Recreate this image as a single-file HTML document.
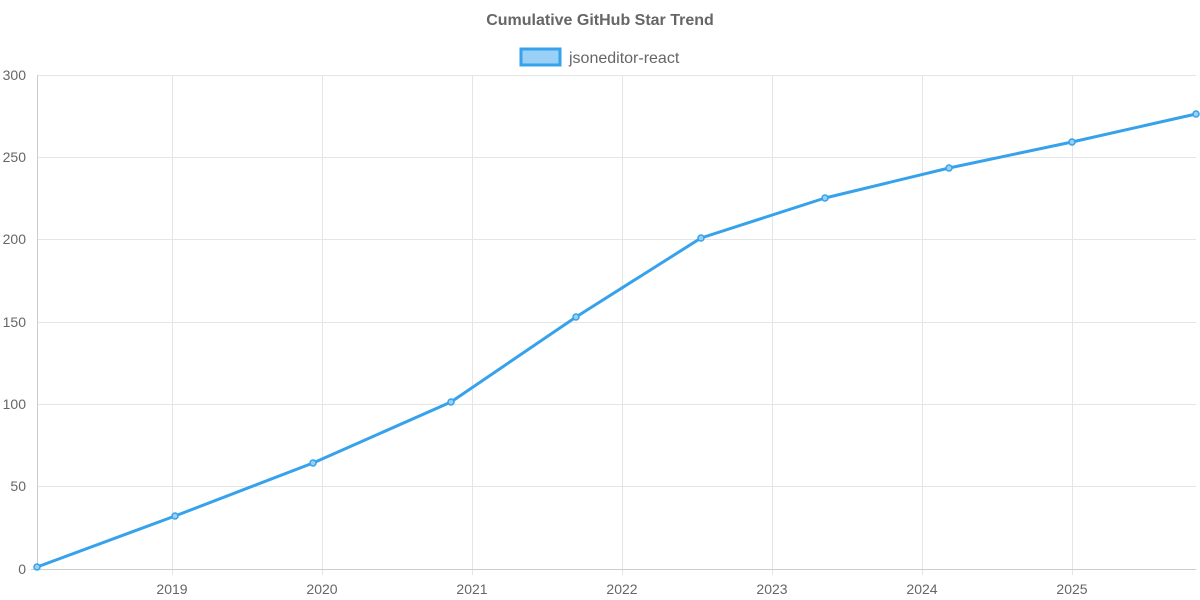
<!DOCTYPE html>
<html><head><meta charset="utf-8"><style>
html,body{margin:0;padding:0;background:#fff;}
svg{display:block;font-family:"Liberation Sans",sans-serif;}
</style></head><body>
<svg width="1200" height="600" xmlns="http://www.w3.org/2000/svg">
<text x="600" y="25" text-anchor="middle" font-size="16" font-weight="bold" fill="#666">Cumulative GitHub Star Trend</text>
<rect x="521" y="49" width="39" height="16" fill="#9ad0f5" stroke="#36a2eb" stroke-width="3"/>
<text x="569" y="63" font-size="16" fill="#666">jsoneditor-react</text>
<g stroke="#e5e5e5" stroke-width="1">
<line x1="37" y1="75.5" x2="1196" y2="75.5"/>
<line x1="37" y1="157.5" x2="1196" y2="157.5"/>
<line x1="37" y1="239.5" x2="1196" y2="239.5"/>
<line x1="37" y1="322.5" x2="1196" y2="322.5"/>
<line x1="37" y1="404.5" x2="1196" y2="404.5"/>
<line x1="37" y1="486.5" x2="1196" y2="486.5"/>
<line x1="172.5" y1="75" x2="172.5" y2="575"/>
<line x1="322.5" y1="75" x2="322.5" y2="575"/>
<line x1="472.5" y1="75" x2="472.5" y2="575"/>
<line x1="622.5" y1="75" x2="622.5" y2="575"/>
<line x1="772.5" y1="75" x2="772.5" y2="575"/>
<line x1="922.5" y1="75" x2="922.5" y2="575"/>
<line x1="1072.5" y1="75" x2="1072.5" y2="575"/>
</g>
<line x1="37.5" y1="75" x2="37.5" y2="569" stroke="#ccc"/>
<line x1="31" y1="569.5" x2="1196" y2="569.5" stroke="#ccc"/>
<g font-size="14" fill="#666" text-anchor="end">
<text x="26" y="80">300</text><text x="26" y="162">250</text><text x="26" y="244">200</text>
<text x="26" y="327">150</text><text x="26" y="409">100</text><text x="26" y="491">50</text><text x="26" y="574">0</text>
</g>
<g font-size="14" fill="#666" text-anchor="middle">
<text x="172" y="594">2019</text><text x="322" y="594">2020</text><text x="472" y="594">2021</text>
<text x="622" y="594">2022</text><text x="772" y="594">2023</text><text x="922" y="594">2024</text><text x="1072" y="594">2025</text>
</g>
<polyline fill="none" stroke="#36a2eb" stroke-width="3" stroke-linejoin="round" points="37,567 175,516 313,463 451,402 576,317 701,238 825,198 949,168 1072,142 1196,114"/>
<g fill="#9ad0f5" stroke="#36a2eb" stroke-width="1.5">
<circle cx="37" cy="567" r="3"/><circle cx="175" cy="516" r="3"/><circle cx="313" cy="463" r="3"/><circle cx="451" cy="402" r="3"/><circle cx="576" cy="317" r="3"/><circle cx="701" cy="238" r="3"/><circle cx="825" cy="198" r="3"/><circle cx="949" cy="168" r="3"/><circle cx="1072" cy="142" r="3"/><circle cx="1196" cy="114" r="3"/>
</g>
</svg>
</body></html>
